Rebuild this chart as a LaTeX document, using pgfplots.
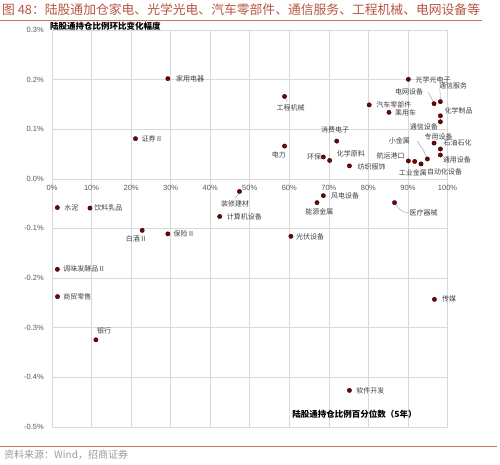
\documentclass[border=0pt]{standalone}
\usepackage{pgfplots}
\pgfplotsset{compat=1.18}
\usepackage{fontspec}
\setmainfont{Noto Sans CJK SC}
\newfontfamily\cjk{Noto Sans CJK SC}
\newfontfamily\arial{Liberation Sans}
\definecolor{titlered}{RGB}{184,84,64}
\definecolor{linered}{RGB}{205,115,95}
\definecolor{dotred}{RGB}{128,0,0}
\definecolor{lbl}{RGB}{64,64,64}
\definecolor{gridc}{RGB}{217,217,217}
\definecolor{tickc}{RGB}{89,89,89}

\begin{document}
\begin{tikzpicture}
\path[use as bounding box] (0,0) rectangle (500pt,464pt);
\node[anchor=west, inner sep=0pt, text=titlered, font=\cjk\fontsize{12.8}{14}\selectfont] at (2pt,454pt) {图 48：陆股通加仓家电、光学光电、汽车零部件、通信服务、工程机械、电网设备等};
\draw[linered, line width=1pt] (0,443.5pt) -- (482pt,443.5pt);
\begin{axis}[at={(52pt,37.2pt)}, anchor=south west, scale only axis,
  width=395.5pt, height=396.8pt,
  xmin=0, xmax=100, ymin=-0.5, ymax=0.3, clip=false,
  axis x line=middle, axis y line=left, axis line style={gridc, -, line width=0.6pt},
  grid=major, grid style={gridc, line width=0.6pt},
  xtick={0,10,20,30,40,50,60,70,80,90,100},
  xticklabels={0\%,10\%,20\%,30\%,40\%,50\%,60\%,70\%,80\%,90\%,100\%},
  ytick={-0.5,-0.4,-0.3,-0.2,-0.1,0,0.1,0.2,0.3},
  yticklabels={-0.5\%,-0.4\%,-0.3\%,-0.2\%,-0.1\%,0.0\%,0.1\%,0.2\%,0.3\%},
  major tick length=0pt, tick style={draw=none},
  ticklabel style={font=\arial\fontsize{7.5}{9}\selectfont, text=tickc, inner sep=0pt},
  xticklabel style={anchor=north, yshift=-6pt},
  yticklabel style={anchor=east, xshift=-8pt},
  hide obscured x ticks=false, hide obscured y ticks=false,
]
\addplot[only marks, mark=*, mark size=2.2pt,
  mark options={fill=dotred, draw=black, line width=0.3pt},
  nodes near coords, point meta=explicit symbolic,
  visualization depends on={value \thisrow{a} \as \anc},
  visualization depends on={\thisrow{dx} \as \dx},
  visualization depends on={\thisrow{dy} \as \dy},
  nodes near coords style={anchor=\anc, xshift=\dx pt, yshift=\dy pt, inner sep=0pt,
    font=\cjk\fontsize{7}{8}\selectfont, text=lbl}]
  table[x=x, y=y, meta=label] {
x y a dx dy label
29.3 0.202 west 8 0 家用电器
21.1 0.081 west 6 0 证券Ⅱ
58.8 0.166 center 6 -11 工程机械
58.8 0.066 east 1.5 -8.7 电力
72.0 0.076 center -1.7 11.7 消费电子
68.6 0.044 east -2 0 环保
70.2 0.037 west 7 6.4 化学原料
75.2 0.026 west 8 -1 纺织服饰
80.2 0.149 west 7 0 汽车零部件
85.2 0.134 west 6 0 乘用车
90.1 0.2006 west 7 0 光学光电子
96.6 0.1515 east -10.7 12 电网设备
98.2 0.1556 west -1.3 15.7 通信服务
98.2 0.127 west 4 5 化学制品
98.2 0.115 east -2.3 -4.7 通信设备
96.6 0.072 west -9.7 6.3 专用设备
98.2 0.060 west 3 6 石油石化
98.2 0.048 west 2.4 -4.7 通用设备
94.9 0.040 east -17.3 18.3 小金属
90.1 0.036 east -3.7 5 航运港口
91.7 0.035 east 12.4 -11 工业金属
93.3 0.030 west 6 -8.4 自动化设备
1.35 -0.058 west 7 0 水泥
9.6 -0.059 west 4.3 0 饮料乳品
47.4 -0.0255 center -4.3 -12.6 装修建材
42.4 -0.076 west 7 0 计算机设备
22.8 -0.104 center -5.7 -8 白酒Ⅱ
29.3 -0.111 west 5.6 0 保险Ⅱ
1.35 -0.1825 west 6 0 调味发酵品Ⅱ
1.4 -0.2375 west 5.6 0 商贸零售
11.1 -0.3246 center 8.2 8.6 银行
68.6 -0.034 west 7.7 0 风电设备
67.0 -0.048 center 2.3 -9.3 能源金属
86.6 -0.048 west 15 -10 医疗器械
60.4 -0.116 west 5 0 光伏设备
96.7 -0.243 west 7.4 0 传媒
75.2 -0.4266 west 6.7 0 软件开发
};
\draw[gray!80, line width=0.4pt] ([shift={(-1pt,2.5pt)}]axis cs:96.6,0.1515) -- ([shift={(-5.7pt,11pt)}]axis cs:96.6,0.1515);
\draw[gray!80, line width=0.4pt] ([shift={(0pt,3pt)}]axis cs:98.2,0.1556) -- ([shift={(-0.5pt,12pt)}]axis cs:98.2,0.1556);
\draw[gray!80, line width=0.4pt] ([shift={(-1pt,2.5pt)}]axis cs:94.9,0.040) to[out=110,in=-60] ([shift={(-10pt,18pt)}]axis cs:94.9,0.040);
\draw[gray!80, line width=0.4pt] ([shift={(1pt,-2pt)}]axis cs:58.8,0.166) -- ([shift={(3pt,-5pt)}]axis cs:58.8,0.166);
\draw[gray!80, line width=0.4pt] ([shift={(-1pt,-2.5pt)}]axis cs:47.4,-0.0255) -- ([shift={(-4.3pt,-6.7pt)}]axis cs:47.4,-0.0255);
\draw[gray!80, line width=0.4pt] ([shift={(1.5pt,-2pt)}]axis cs:86.6,-0.048) to[out=-60,in=180] ([shift={(14pt,-10pt)}]axis cs:86.6,-0.048);
\end{axis}
\node[anchor=west, inner sep=0pt, font=\cjk\bfseries\fontsize{8.5}{10}\selectfont] at (50pt,437.3pt) {陆股通持仓比例环比变化幅度};
\node[anchor=east, inner sep=0pt, font=\cjk\bfseries\fontsize{8.5}{10}\selectfont] at (416.7pt,50pt) {陆股通持仓比例百分位数（5年）};
\draw[linered, line width=1pt] (0,17.3pt) -- (497pt,17.3pt);
\node[anchor=west, inner sep=0pt, text=gray!80, font=\cjk\fontsize{10}{12}\selectfont] at (4pt,9pt) {资料来源：Wind，招商证券};
\end{tikzpicture}
\end{document}
